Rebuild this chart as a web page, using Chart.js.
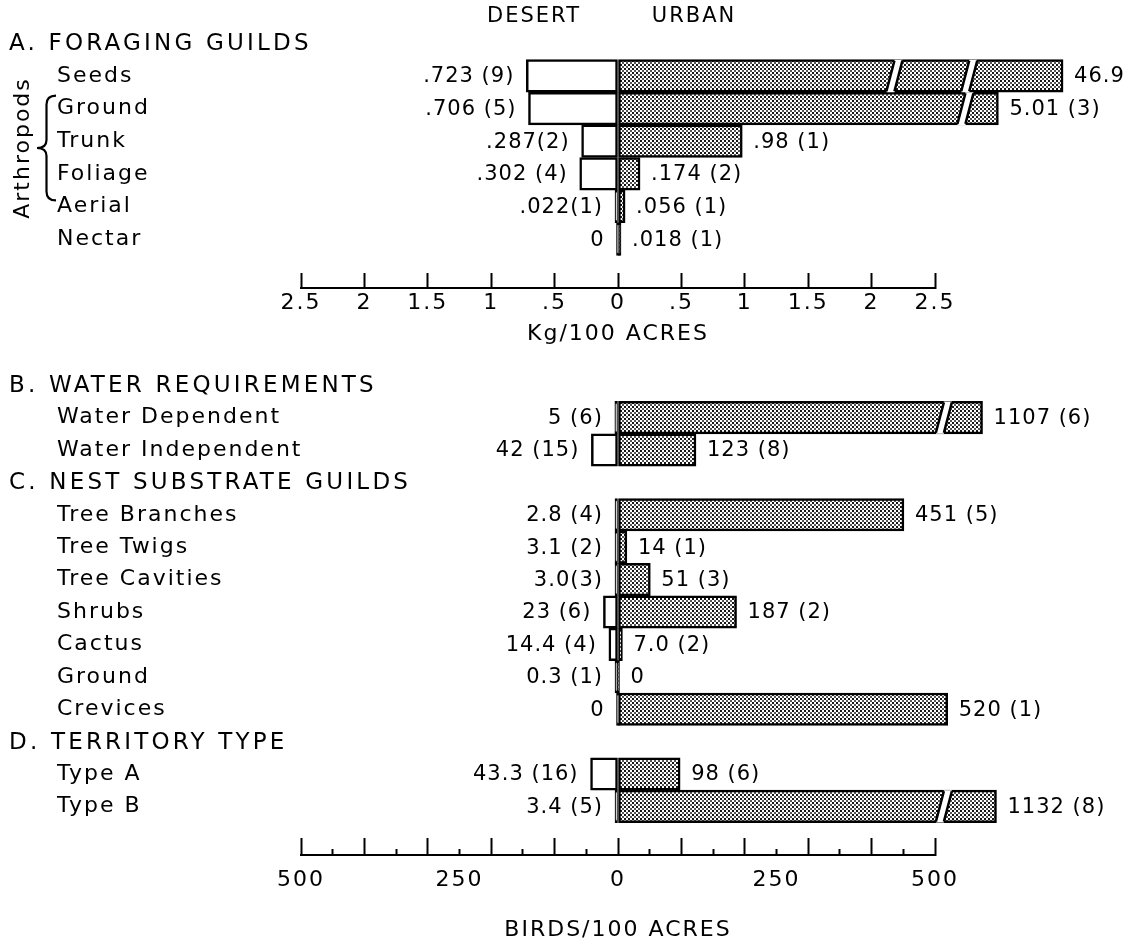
<!DOCTYPE html>
<html>
<head>
<meta charset="utf-8">
<script src="https://cdn.jsdelivr.net/npm/chart.js@4.4.1/dist/chart.umd.min.js"></script>
<style>
  html, body { margin: 0; padding: 0; background: #ffffff; }
  #wrap { position: relative; width: 1139px; height: 946px; overflow: hidden; }
  .panel { position: absolute; left: 0; }
</style>
</head>
<body>
<div id="wrap">
  <div class="panel" style="top:0;"><canvas id="topChart" width="1139" height="350"></canvas></div>
  <div class="panel" style="top:350px;"><canvas id="bottomChart" width="1139" height="596"></canvas></div>
</div>
<script>
// ---------------- DATA ----------------
// A. Foraging guilds (Kg / 100 acres)
const foragingHeader = 'A. FORAGING GUILDS';
const foragingCategories = ['Seeds', 'Ground', 'Trunk', 'Foliage', 'Aerial', 'Nectar'];
const foragingDesert = [0.723, 0.706, 0.287, 0.302, 0.022, 0];
const foragingUrban = [46.9, 5.01, 0.98, 0.174, 0.056, 0.018];
const foragingDesertText = ['.723 (9)', '.706 (5)', '.287(2)', '.302 (4)', '.022(1)', '0'];
const foragingUrbanText = ['46.9', '5.01 (3)', '.98 (1)', '.174 (2)', '.056 (1)', '.018 (1)'];
// broken (off-scale) bars: extent drawn on the axis and where the bar is broken
const foragingUrbanDrawn = [3.51, 3.0, null, null, null, null];
const foragingUrbanBreaks = [[2.18, 2.77], [2.74], [], [], [], []];
const arthropodGuilds = ['Ground', 'Trunk', 'Foliage', 'Aerial'];

// B. Water requirements (birds / 100 acres)
const waterHeader = 'B. WATER REQUIREMENTS';
const waterCategories = ['Water Dependent', 'Water Independent'];
const waterDesert = [5, 42];
const waterUrban = [1107, 123];
const waterDesertText = ['5 (6)', '42 (15)'];
const waterUrbanText = ['1107 (6)', '123 (8)'];
const waterUrbanDrawn = [575, null];
const waterUrbanBreaks = [[514], []];

// C. Nest substrate guilds
const nestHeader = 'C. NEST SUBSTRATE GUILDS';
const nestCategories = ['Tree Branches', 'Tree Twigs', 'Tree Cavities', 'Shrubs', 'Cactus', 'Ground', 'Crevices'];
const nestDesert = [2.8, 3.1, 3.0, 23, 14.4, 0.3, 0];
const nestUrban = [451, 14, 51, 187, 7.0, 0, 520];
const nestDesertText = ['2.8 (4)', '3.1 (2)', '3.0(3)', '23 (6)', '14.4 (4)', '0.3 (1)', '0'];
const nestUrbanText = ['451 (5)', '14 (1)', '51 (3)', '187 (2)', '7.0 (2)', '0', '520 (1)'];

// D. Territory type
const territoryHeader = 'D. TERRITORY TYPE';
const territoryCategories = ['Type A', 'Type B'];
const territoryDesert = [43.3, 3.4];
const territoryUrban = [98, 1132];
const territoryDesertText = ['43.3 (16)', '3.4 (5)'];
const territoryUrbanText = ['98 (6)', '1132 (8)'];
const territoryUrbanDrawn = [null, 597];
const territoryUrbanBreaks = [[], [514]];

// axis ticks
const kgTickValues = [-2.5, -2, -1.5, -1, -0.5, 0, 0.5, 1, 1.5, 2, 2.5];
const kgTickLabels = ['2.5', '2', '1.5', '1', '.5', '0', '.5', '1', '1.5', '2', '2.5'];
const birdTickValues = [-500, -250, 0, 250, 500];
const birdTickLabels = ['500', '250', '0', '250', '500'];
const columnHeaders = ['DESERT', 'URBAN'];

// ---------------- BUILD ----------------
const FONT = "'DejaVu Sans', 'Liberation Sans', sans-serif";
Chart.defaults.font.family = FONT;
Chart.defaults.color = '#000';

function buildRows(sections) {
  const r = { labels: [], tick: [], headers: [], desert: [], urban: [], dText: [], uText: [], breaks: [] };
  const blank = () => { r.desert.push(null); r.urban.push(null); r.dText.push(null); r.uText.push(null); r.breaks.push([]); };
  sections.forEach(s => {
    r.labels.push(s.header); r.tick.push(''); r.headers.push(r.labels.length - 1); blank();
    s.cats.forEach((c, i) => {
      r.labels.push(c); r.tick.push(c);
      r.desert.push(-s.desert[i]);
      r.urban.push(s.drawn && s.drawn[i] != null ? s.drawn[i] : s.urban[i]);
      r.dText.push(s.dText[i]); r.uText.push(s.uText[i]);
      r.breaks.push(s.breaks ? s.breaks[i] : []);
    });
  });
  r.labels.push(''); r.tick.push(''); blank();   // spacer row above the axis
  return r;
}

const topRows = buildRows([
  { header: foragingHeader, cats: foragingCategories, desert: foragingDesert, urban: foragingUrban,
    dText: foragingDesertText, uText: foragingUrbanText, drawn: foragingUrbanDrawn, breaks: foragingUrbanBreaks }
]);
const bottomRows = buildRows([
  { header: waterHeader, cats: waterCategories, desert: waterDesert, urban: waterUrban,
    dText: waterDesertText, uText: waterUrbanText, drawn: waterUrbanDrawn, breaks: waterUrbanBreaks },
  { header: nestHeader, cats: nestCategories, desert: nestDesert, urban: nestUrban,
    dText: nestDesertText, uText: nestUrbanText },
  { header: territoryHeader, cats: territoryCategories, desert: territoryDesert, urban: territoryUrban,
    dText: territoryDesertText, uText: territoryUrbanText, drawn: territoryUrbanDrawn, breaks: territoryUrbanBreaks }
]);

function makePattern(canvas) {
  const t = document.createElement('canvas');
  t.width = 4; t.height = 4;
  const g = t.getContext('2d');
  g.fillStyle = '#ffffff'; g.fillRect(0, 0, 4, 4);
  g.fillStyle = '#151515'; g.fillRect(0, 0, 2, 2);
  g.fillStyle = '#555555'; g.fillRect(2, 2, 2, 2);
  return canvas.getContext('2d').createPattern(t, 'repeat');
}

const annot = {
  id: 'annot',
  beforeDraw(chart) { chart.ctx.letterSpacing = '2px'; },
  afterDatasetsDraw(chart, args, opts) {
    const ctx = chart.ctx, x = chart.scales.x, y = chart.scales.y;
    const rows = opts.rows;
    const md = chart.getDatasetMeta(0), mu = chart.getDatasetMeta(1);
    // breaks in off-scale bars
    rows.breaks.forEach((bs, i) => {
      if (!bs || !bs.length) return;
      const el = mu.data[i];
      const top = el.y - el.height / 2, bot = el.y + el.height / 2;
      bs.forEach(b => {
        const px = x.getPixelForValue(b);
        const g = 4, s = 4;
        ctx.save();
        ctx.fillStyle = '#ffffff';
        ctx.beginPath();
        ctx.moveTo(px - g - s, bot); ctx.lineTo(px - g + s, top);
        ctx.lineTo(px + g + s, top); ctx.lineTo(px + g - s, bot);
        ctx.closePath(); ctx.fill();
        ctx.strokeStyle = '#000'; ctx.lineWidth = 2.5;
        ctx.beginPath();
        ctx.moveTo(px - g - s, bot - 1); ctx.lineTo(px - g + s, top + 1);
        ctx.moveTo(px + g - s, bot - 1); ctx.lineTo(px + g + s, top + 1);
        ctx.stroke();
        ctx.restore();
      });
    });
    // value labels
    ctx.save();
    ctx.font = '21px ' + FONT;
    ctx.fillStyle = '#000';
    ctx.textBaseline = 'middle';
    ctx.letterSpacing = '1px';
    rows.dText.forEach((t, i) => {
      if (t == null) return;
      const el = md.data[i];
      const edge = Math.min(el.x, el.base);
      ctx.textAlign = 'right';
      ctx.fillText(t, edge - 12, el.y + 1);
    });
    rows.uText.forEach((t, i) => {
      if (t == null) return;
      const el = mu.data[i];
      const edge = Math.max(el.x, el.base);
      ctx.textAlign = 'left';
      ctx.fillText(t, edge + 11, el.y + 1);
    });
    // section headers
    ctx.font = '23px ' + FONT;
    ctx.letterSpacing = '3.2px';
    ctx.textAlign = 'left';
    rows.headers.forEach(i => ctx.fillText(rows.labels[i], 9, y.getPixelForValue(i) + 1));
    ctx.restore();

    if (opts.extra === 'top') {
      const z = x.getPixelForValue(0);
      ctx.save();
      ctx.font = '21px ' + FONT;
      ctx.fillStyle = '#000';
      ctx.textBaseline = 'middle';
      ctx.textAlign = 'center';
      ctx.letterSpacing = '2px';
      ctx.fillText(columnHeaders[0], z - 84, 17);
      ctx.fillText(columnHeaders[1], z + 76, 17);
      // brace for arthropod guilds
      const i0 = rows.labels.indexOf(arthropodGuilds[0]);
      const i1 = rows.labels.indexOf(arthropodGuilds[arthropodGuilds.length - 1]);
      const yTop = y.getPixelForValue(i0) - 13, yBot = y.getPixelForValue(i1) - 6;
      const ym = (yTop + yBot) / 2;
      const xr = 56, xl = 37, xm = 46.5;
      ctx.strokeStyle = '#000'; ctx.lineWidth = 2.2;
      ctx.beginPath();
      ctx.moveTo(xr, yTop);
      ctx.quadraticCurveTo(xm, yTop, xm, yTop + 9);
      ctx.lineTo(xm, ym - 8);
      ctx.quadraticCurveTo(xm, ym, xl, ym);
      ctx.quadraticCurveTo(xm, ym, xm, ym + 8);
      ctx.lineTo(xm, yBot - 9);
      ctx.quadraticCurveTo(xm, yBot, xr, yBot);
      ctx.stroke();
      ctx.translate(23, ym);
      ctx.rotate(-Math.PI / 2);
      ctx.font = '22px ' + FONT;
      ctx.letterSpacing = '2px';
      ctx.fillText('Arthropods', 0, 0);
      ctx.restore();
    }
  }
};

function makeChart(id, rows, axis) {
  const canvas = document.getElementById(id);
  return new Chart(canvas, {
    type: 'bar',
    data: {
      labels: rows.labels,
      datasets: [
        { label: 'Desert', data: rows.desert, backgroundColor: '#ffffff', borderColor: '#000000',
          borderWidth: 2.5, borderSkipped: false, grouped: false, barPercentage: 1, categoryPercentage: 1,
          minBarLength: 3, clip: false },
        { label: 'Urban', data: rows.urban, backgroundColor: makePattern(canvas), borderColor: '#000000',
          borderWidth: 2.5, borderSkipped: false, grouped: false, barPercentage: 1, categoryPercentage: 1,
          minBarLength: 3, clip: false }
      ]
    },
    options: {
      indexAxis: 'y',
      responsive: false,
      animation: false,
      devicePixelRatio: 1,
      layout: { padding: { left: 57, right: 204, top: axis.padTop, bottom: 0 } },
      plugins: {
        legend: { display: false },
        tooltip: { enabled: false },
        annot: { rows: rows, extra: axis.extra }
      },
      scales: {
        x: {
          type: 'linear', position: 'bottom', min: axis.min, max: axis.max,
          afterFit: s => { s.height = axis.height; },
          border: { display: true, color: '#000', width: 2 },
          grid: { drawOnChartArea: false, drawTicks: true, tickLength: -axis.tickLen, tickWidth: 2,
                  tickColor: '#000', color: '#000', tickBorderDash: axis.tickDash },
          ticks: { stepSize: axis.step, autoSkip: false, maxRotation: 0, color: '#000',
                   padding: axis.labelPad, font: { size: 22 }, callback: axis.tickLabel },
          title: { display: true, text: axis.title, color: '#000', font: { size: 22 },
                   padding: { top: 0, bottom: axis.titlePad } }
        },
        y: {
          type: 'category', position: 'left',
          afterFit: s => { s.width = 244; },
          border: { display: false },
          grid: { display: false },
          ticks: { autoSkip: false, crossAlign: 'far', padding: 0, color: '#000', font: { size: 22 },
                   callback: (v, i) => rows.tick[i] }
        }
      }
    },
    plugins: [annot]
  });
}

function lookup(values, labels) {
  return v => {
    const k = values.findIndex(t => Math.abs(t - v) < 1e-9);
    return k < 0 ? '' : labels[k];
  };
}

makeChart('topChart', topRows, {
  extra: 'top', min: -2.5, max: 2.5, step: 0.5, padTop: 27, height: 62,
  tickLen: 15, labelPad: 17, titlePad: 3, title: 'Kg/100 ACRES',
  tickDash: () => [], tickLabel: lookup(kgTickValues, kgTickLabels)
});

makeChart('bottomChart', bottomRows, {
  extra: 'bottom', min: -500, max: 500, step: 50, padTop: 19, height: 91,
  tickLen: 17, labelPad: 29, titlePad: 3, title: 'BIRDS/100 ACRES',
  tickDash: c => (c.tick && Math.abs(c.tick.value % 100) > 1e-6) ? [7, 40] : [],
  tickLabel: lookup(birdTickValues, birdTickLabels)
});
</script>
</body>
</html>
